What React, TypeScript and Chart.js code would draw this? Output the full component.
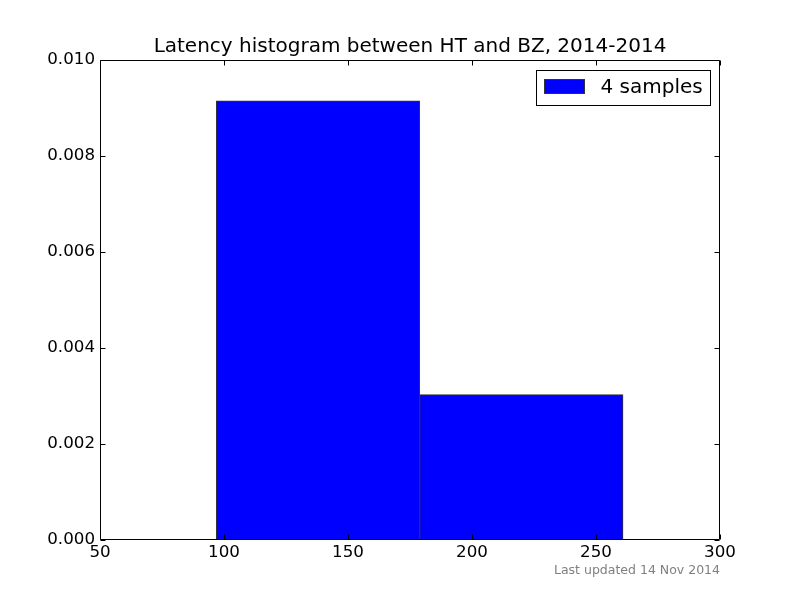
import React, { useEffect, useRef } from "react";
import { Chart, registerables } from "chart.js";

Chart.register(...registerables);

const titleText = "Latency histogram between HT and BZ, 2014-2014";
const footerText = "Last updated 14 Nov 2014";
const seriesLabel = "4 samples";
const binCenters = [137.9, 219.9];
const densities = [0.00915, 0.00303];
const xTicks = [50, 100, 150, 200, 250, 300];
const yTicks = [0, 0.002, 0.004, 0.006, 0.008, 0.01];

const FONT = "'DejaVu Sans', sans-serif";

const framePlugin = {
  id: "frameTicks",
  afterDatasetsDraw(chart: any) {
    const { ctx, chartArea } = chart;
    const { left, right, top, bottom } = chartArea;
    const xs = chart.scales.x;
    const ys = chart.scales.y;
    ctx.save();
    ctx.strokeStyle = "#000";
    ctx.lineWidth = 1;
    ctx.beginPath();
    const L = Math.round(left) + 0.5;
    const R = Math.round(right) - 0.5;
    const T = Math.round(top) + 0.5;
    const B = Math.round(bottom) - 0.5;
    ctx.rect(L, T, R - L, B - T);
    const tl = 5;
    xTicks.forEach((v) => {
      const px = Math.round(xs.getPixelForValue(v)) + 0.5;
      ctx.moveTo(px, B);
      ctx.lineTo(px, B - tl);
      ctx.moveTo(px, T);
      ctx.lineTo(px, T + tl);
    });
    yTicks.forEach((v) => {
      const py = Math.round(ys.getPixelForValue(v)) + 0.5;
      ctx.moveTo(L, py);
      ctx.lineTo(L + tl, py);
      ctx.moveTo(R, py);
      ctx.lineTo(R - tl, py);
    });
    ctx.stroke();
    ctx.restore();
  },
};

const legendPlugin = {
  id: "innerLegend",
  afterDraw(chart: any) {
    const { ctx, chartArea } = chart;
    const ds = chart.data.datasets[0];
    ctx.save();
    ctx.font = `20px ${FONT}`;
    const tw = ctx.measureText(ds.label).width;
    const boxW = Math.round(8 + 40 + 16 + tw + 8);
    const boxH = 35;
    const bx = Math.round(chartArea.right - 10 - boxW) + 0.5;
    const by = Math.round(chartArea.top + 10) + 0.5;
    ctx.fillStyle = "#fff";
    ctx.fillRect(bx, by, boxW, boxH);
    ctx.strokeStyle = "#000";
    ctx.lineWidth = 1;
    ctx.strokeRect(bx, by, boxW, boxH);
    ctx.fillStyle = ds.backgroundColor;
    ctx.fillRect(bx + 8, by + 9, 40, 14);
    ctx.strokeStyle = "#333";
    ctx.strokeRect(bx + 8, by + 9, 40, 14);
    ctx.fillStyle = "#000";
    ctx.textBaseline = "middle";
    ctx.textAlign = "left";
    ctx.fillText(ds.label, bx + 64, by + 17);
    ctx.restore();
  },
};

export default function App() {
  const ref = useRef<HTMLCanvasElement | null>(null);
  useEffect(() => {
    if (!ref.current) return;
    const chart = new Chart(ref.current, {
      type: "bar",
      data: {
        datasets: [
          {
            label: seriesLabel,
            data: binCenters.map((x, i) => ({ x, y: densities[i] })),
            backgroundColor: "#0000ff",
            borderColor: "#333333",
            borderWidth: 1,
            barThickness: "flex",
            barPercentage: 1,
            categoryPercentage: 1,
          } as any,
        ],
      },
      options: {
        animation: false,
        responsive: false,
        layout: { padding: { left: 0, right: 80, top: 0, bottom: 0 } },
        scales: {
          x: {
            type: "linear",
            min: 50,
            max: 300,
            offset: false,
            grid: { display: false, drawTicks: false },
            border: { display: false },
            afterBuildTicks: (s: any) => {
              s.ticks = xTicks.map((v) => ({ value: v }));
            },
            afterFit: (s: any) => {
              s.height = 23.5;
            },
            ticks: {
              padding: 3,
              color: "#000",
              font: { family: FONT, size: 16.7 },
              maxRotation: 0,
              callback: (v: any) => String(v),
            },
          },
          y: {
            type: "linear",
            min: 0,
            max: 0.01,
            grid: { display: false, drawTicks: false },
            border: { display: false },
            afterBuildTicks: (s: any) => {
              s.ticks = yTicks.map((v) => ({ value: v }));
            },
            afterFit: (s: any) => {
              s.width = 100;
            },
            ticks: {
              padding: 5,
              color: "#000",
              font: { family: FONT, size: 16.7 },
              callback: (v: any) => Number(v).toFixed(3),
            },
          },
        },
        plugins: {
          legend: { display: false },
          tooltip: { enabled: false },
          title: {
            display: true,
            text: titleText,
            color: "#000",
            fullSize: false,
            align: "center",
            font: { family: FONT, size: 20, weight: "normal" },
            padding: { top: 35, bottom: 1 },
          },
          subtitle: {
            display: true,
            text: footerText,
            position: "bottom",
            align: "end",
            color: "#808080",
            font: { family: FONT, size: 12.5, weight: "normal" },
            padding: { top: 0, bottom: 21.5 },
          },
        },
      },
      plugins: [framePlugin, legendPlugin],
    });
    return () => chart.destroy();
  }, []);
  return (
    <div style={{ position: "absolute", left: 0, top: 0, width: 800, height: 600, background: "#fff" }}>
      <canvas ref={ref} width={800} height={600} />
    </div>
  );
}
